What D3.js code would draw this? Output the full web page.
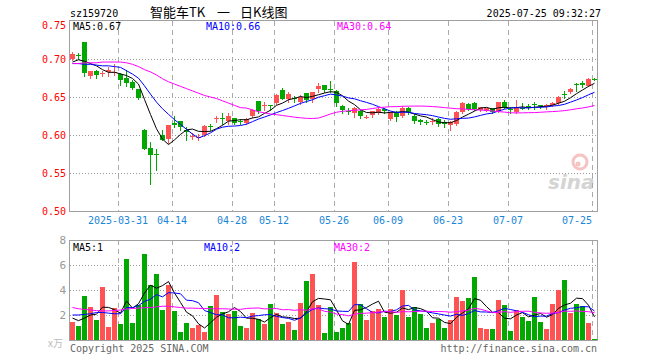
<!DOCTYPE html>
<html><head><meta charset="utf-8">
<script src="https://cdn.jsdelivr.net/npm/d3@7"></script>
<style>body{margin:0;background:#fff}svg{display:block}</style>
</head><body><svg id="c" width="660" height="360"></svg>
<script>
const dates = ["2025-03-19","2025-03-20","2025-03-21","2025-03-24","2025-03-25","2025-03-26","2025-03-27","2025-03-28","2025-03-31",
"2025-04-01","2025-04-02","2025-04-03","2025-04-07","2025-04-08","2025-04-09","2025-04-10","2025-04-11","2025-04-14","2025-04-15","2025-04-16","2025-04-17","2025-04-18","2025-04-21","2025-04-22","2025-04-23","2025-04-24","2025-04-25","2025-04-28","2025-04-29","2025-04-30",
"2025-05-06","2025-05-07","2025-05-08","2025-05-09","2025-05-12","2025-05-13","2025-05-14","2025-05-15","2025-05-16","2025-05-19","2025-05-20","2025-05-21","2025-05-22","2025-05-23","2025-05-26","2025-05-27","2025-05-28","2025-05-29","2025-05-30",
"2025-06-03","2025-06-04","2025-06-05","2025-06-06","2025-06-09","2025-06-10","2025-06-11","2025-06-12","2025-06-13","2025-06-16","2025-06-17","2025-06-18","2025-06-19","2025-06-20","2025-06-23","2025-06-24","2025-06-25","2025-06-26","2025-06-27","2025-06-30",
"2025-07-01","2025-07-02","2025-07-03","2025-07-04","2025-07-07","2025-07-08","2025-07-09","2025-07-10","2025-07-11","2025-07-14","2025-07-15","2025-07-16","2025-07-17","2025-07-18","2025-07-21","2025-07-22","2025-07-23","2025-07-24","2025-07-25"];

const open  = [.700,.705,.722,.678,.684,.680,.683,.682,.680,.675,.670,.660,.607,.583,.575,.600,.595,.616,.618,.607,.598,.597,.600,.612,.621,.622,.618,.622,.618,.616,
.625,.645,.638,.639,.642,.659,.647,.649,.643,.655,.647,.660,.666,.660,.658,.638,.631,.629,.632,.623,.626,.629,.634,.621,.629,.625,.636,.625,.620,.617,
.618,.621,.617,.613,.614,.630,.641,.642,.633,.632,.635,.631,.643,.634,.630,.636,.638,.641,.639,.638,.639,.642,.654,.656,.667,.668,.665,.674];
const high  = [.709,.708,.723,.684,.685,.684,.690,.694,.682,.686,.672,.661,.608,.591,.581,.607,.613,.625,.619,.610,.602,.601,.613,.614,.625,.629,.629,.623,.621,.623,
.634,.645,.643,.639,.654,.662,.656,.651,.653,.655,.656,.668,.666,.671,.659,.639,.636,.637,.633,.626,.632,.637,.636,.630,.631,.638,.637,.628,.621,.620,
.623,.623,.620,.618,.631,.643,.642,.643,.637,.636,.636,.644,.646,.637,.646,.642,.641,.644,.639,.641,.643,.651,.658,.662,.669,.671,.675,.675];
const low   = [.699,.700,.678,.675,.675,.678,.677,.679,.666,.665,.660,.648,.581,.536,.554,.593,.589,.610,.607,.594,.595,.594,.599,.606,.617,.615,.615,.614,.614,.614,
.624,.629,.633,.633,.641,.647,.644,.644,.641,.644,.644,.657,.657,.657,.638,.629,.627,.624,.622,.622,.624,.627,.629,.620,.619,.624,.628,.616,.615,.615,
.615,.612,.610,.607,.613,.629,.633,.633,.632,.631,.629,.630,.635,.629,.629,.634,.634,.634,.635,.634,.638,.641,.649,.655,.658,.663,.664,.673];
const close = [.706,.704,.682,.684,.679,.681,.686,.683,.673,.668,.662,.649,.582,.574,.574,.594,.613,.613,.610,.604,.599,.598,.612,.611,.622,.621,.625,.616,.617,.621,
.633,.632,.639,.638,.653,.648,.654,.648,.650,.646,.656,.665,.659,.659,.642,.633,.630,.636,.625,.624,.631,.634,.631,.629,.624,.636,.630,.619,.617,.616,
.619,.615,.614,.617,.630,.642,.634,.634,.637,.635,.630,.643,.637,.633,.637,.635,.637,.640,.638,.639,.642,.650,.653,.661,.666,.666,.674,.673];
const volume = [1.44,1.12,3.52,2.64,1.6,4.24,1.04,2.59,1.28,6.48,
1.36,2.8,6.88,4.4,5.28,2.4,4.4,2.32,0.64,1.36,
0.96,1.2,0.64,2.72,3.6,2.24,2.1,2.32,1.12,0.96,
2.2,1.65,1.25,2.9,2.2,1.25,1.45,0.8,3.0,4.75,
5.3,2.8,0.56,2.67,0.67,0.96,1.33,6.24,2.88,1.6,
2.32,2.48,1.84,2.48,2.0,4.0,1.84,2.64,2.08,0.96,
1.36,1.68,0.96,1.6,3.44,3.12,3.36,5.04,0.96,0.88,
0.88,3.2,2.8,0.72,2.4,1.84,1.52,3.44,1.44,0.88,
2.88,4.0,4.8,2.16,2.88,2.72,1.36,0.1];

// moving-average values for the first days (window starts before the visible range)
const ma5Head  = [0.696,0.699,0.697,0.694];
const ma10Head = [0.694,0.694,0.693,0.693,0.692,0.691,0.691,0.690,0.689];
const ma30Head = [0.694,0.694,0.695,0.695,0.695,0.696,0.696,0.696,0.696,0.695,0.693,0.690,0.686,0.683,0.679,0.674,0.670,0.667,0.664,0.661,0.658,0.655,0.652,0.650,0.648,0.645,0.642,0.639,0.636];
const vma5Head  = [1.75,1.55,1.75,2.0];
const vma10Head = [2.0,2.0,2.05,2.1,2.2,2.2,2.15,2.1,2.1];
const vma30Head = [2.6,2.5,2.45,2.4,2.35,2.32,2.33,2.36,2.4,2.48,2.52,2.55,2.58,2.6,2.65,2.7,2.7,2.65,2.6,2.55,2.55,2.53,2.52,2.5,2.5,2.5,2.48,2.47,2.45];

const priceTicks = [0.75,0.70,0.65,0.60,0.55,0.50];
const volTicks = [8,6,4,2];
const dateTicks = ["2025-03-31","2025-04-14","2025-04-28","2025-05-12","2025-05-26","2025-06-09","2025-06-23","2025-07-07","2025-07-25"];
const dateTickLabels = ["2025-03-31","04-14","04-28","05-12","05-26","06-09","06-23","07-07","07-25"];

const mono = "'DejaVu Sans Mono', monospace";
const RED = "#ff5252", GREEN = "#00a800";

function movingAvg(vals, n, head){
  return vals.map((v,i)=> i < n-1 ? head[i] : d3.mean(vals.slice(i-n+1,i+1)));
}

const svg = d3.select("#c");
const idx = d3.range(dates.length);
const x = d3.scaleBand().domain(idx).range([70,598]).padding(0);
const bw = x.bandwidth()-1;
const y = d3.scaleLinear().domain([0.5,0.75]).range([211,21]);
const yv = d3.scaleLinear().domain([0,8]).range([340,240]);

const L=69.5, R=597.5;
// Grids
const g = svg.append("g").attr("shape-rendering","crispEdges");
g.selectAll(".hp").data(priceTicks.filter(t=>t<0.75&&t>0.5)).join("line")
  .attr("x1",L).attr("x2",R).attr("y1",d=>Math.round(y(d))+0.5).attr("y2",d=>Math.round(y(d))+0.5)
  .attr("stroke","#999").attr("stroke-dasharray","1,2");
g.selectAll(".hv").data(volTicks.filter(t=>t<8)).join("line")
  .attr("x1",L).attr("x2",R).attr("y1",d=>Math.round(yv(d))+0.5).attr("y2",d=>Math.round(yv(d))+0.5)
  .attr("stroke","#999").attr("stroke-dasharray","1,2");
dateTicks.forEach(dt=>{
  const xi = x(dates.indexOf(dt))+0.5;
  [[21,211],[240,340]].forEach(([a,b])=>{
    g.append("line").attr("x1",xi).attr("x2",xi).attr("y1",a).attr("y2",b)
     .attr("stroke","#aaa").attr("stroke-dasharray","5,4");
  });
});

// Frames
[[20.5,211.5],[240.5,340.5]].forEach(([t,b])=>{
  g.append("rect").attr("x",L).attr("y",t).attr("width",R-L).attr("height",b-t)
   .attr("fill","none").attr("stroke","#a0a0a0");
});

// watermark
const wm = svg.append("g").attr("opacity",0.5);
wm.append("circle").attr("cx",580).attr("cy",162).attr("r",7).attr("fill","none").attr("stroke","#e88").attr("stroke-width",3);
wm.append("circle").attr("cx",578).attr("cy",164).attr("r",2.5).attr("fill","#e88");
wm.append("text").attr("x",548).attr("y",189).attr("font-family","'DejaVu Sans', sans-serif").attr("font-style","italic")
  .attr("font-weight","bold").attr("font-size",20).attr("fill","#aaa").text("sina");

// Candles
const cg = svg.append("g").attr("shape-rendering","crispEdges");
idx.forEach(i=>{
  const up = close[i] >= open[i];
  const col = up ? RED : GREEN;
  const cx = x(i)+2.5;
  cg.append("line").attr("x1",cx).attr("x2",cx).attr("y1",Math.round(y(high[i]))).attr("y2",Math.round(y(low[i]))+1)
    .attr("stroke",col);
  const top = Math.round(y(Math.max(open[i],close[i])));
  const bot = Math.round(y(Math.min(open[i],close[i])));
  cg.append("rect").attr("x",x(i)).attr("y",top).attr("width",bw).attr("height",Math.max(1,bot-top))
    .attr("fill",col);
});

// Price MAs
const line = d3.line().x((d,i)=>x(i)+2.5).y(d=>y(d));
[[movingAvg(close,5,ma5Head),"#000"],[movingAvg(close,10,ma10Head),"#0000ff"],[movingAvg(close,30,ma30Head),"#ff00ff"]]
 .forEach(([arr,c])=> svg.append("path").attr("d",line(arr)).attr("fill","none").attr("stroke",c).attr("stroke-width",1));

// Volume bars
const vg = svg.append("g").attr("shape-rendering","crispEdges");
vg.selectAll("rect").data(idx).join("rect")
  .attr("x",i=>x(i)).attr("width",bw)
  .attr("y",i=>Math.round(yv(volume[i]))).attr("height",i=>340-Math.round(yv(volume[i])))
  .attr("fill",i=> close[i]>=open[i] ? RED : GREEN);

const vline = d3.line().x((d,i)=>x(i)+2.5).y(d=>yv(d));
[[movingAvg(volume,5,vma5Head),"#000"],[movingAvg(volume,10,vma10Head),"#0000ff"],[movingAvg(volume,30,vma30Head),"#ff00ff"]]
 .forEach(([arr,c])=> svg.append("path").attr("d",vline(arr)).attr("fill","none").attr("stroke",c).attr("stroke-width",1));

// Texts
function txt(xp,yp,s,opt={}){
  return svg.append("text").attr("x",xp).attr("y",yp).attr("font-family",opt.family||mono)
    .attr("font-size",opt.size||10).attr("fill",opt.fill||"#000").attr("text-anchor",opt.anchor||"start").text(s);
}
txt(70,17,"sz159720");
// title, laid out with the same wide gaps as the reference
const title = svg.append("text").attr("y",17).attr("font-family","'Noto Sans CJK SC', sans-serif").attr("font-size",13).attr("fill","#000");
title.append("tspan").attr("x",150).text("智能车TK");
title.append("tspan").attr("x",217).text("一");
title.append("tspan").attr("x",240).text("日K线图");
txt(601,17,"2025-07-25 09:32:27",{anchor:"end"});

priceTicks.forEach(t=>{
  const yy = t===0.75 ? y(t)+4 : y(t);
  txt(66,yy+4,t.toFixed(2),{anchor:"end",fill:"#ff0000"});
});
dateTicks.forEach((dt,k)=>{
  const xi = x(dates.indexOf(dt));
  const last = k===dateTicks.length-1;
  txt(xi, 224, dateTickLabels[k], {anchor: last?"end":"middle", fill:"#1a86d8"});
});
txt(73,30,"MA5:0.67");
txt(206,30,"MA10:0.66",{fill:"#0000ff"});
txt(337,30,"MA30:0.64",{fill:"#ff00ff"});

volTicks.forEach(t=> txt(66,yv(t)+4,String(t),{anchor:"end",fill:"#999",size:11}));
txt(48,347,"x万",{fill:"#bbb",family:"'Noto Sans CJK SC', sans-serif",size:10});
txt(73,251,"MA5:1");
txt(204,251,"MA10:2",{fill:"#0000ff"});
txt(334,251,"MA30:2",{fill:"#ff00ff"});
txt(70,352,"Copyright 2025 SINA.COM",{fill:"#666"});
txt(597,352,"http://finance.sina.com.cn",{anchor:"end",fill:"#666"});
</script></body></html>
